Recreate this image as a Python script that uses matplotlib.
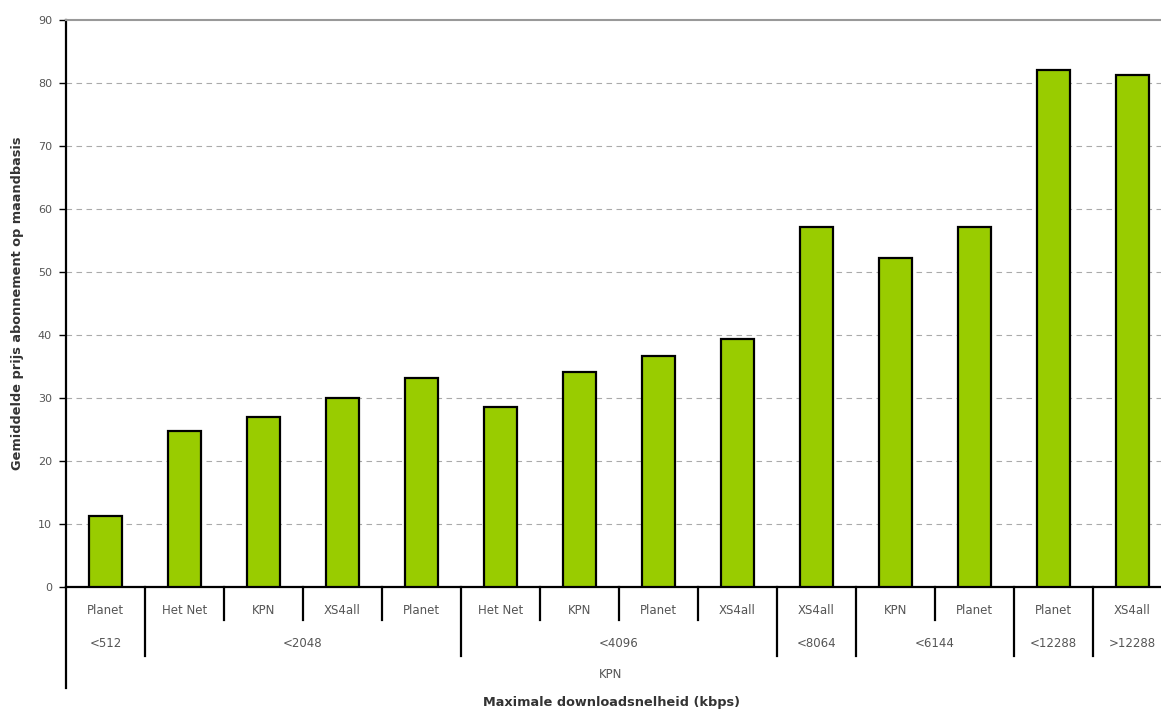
import matplotlib.pyplot as plt

plt.rcParams['font.family'] = ['DejaVu Sans']

# data
providers = ['Planet', 'Het Net', 'KPN', 'XS4all', 'Planet', 'Het Net', 'KPN',
             'Planet', 'XS4all', 'XS4all', 'KPN', 'Planet', 'Planet', 'XS4all']
speed_groups = ['<512', '<2048', '<2048', '<2048', '<2048', '<4096', '<4096',
                '<4096', '<4096', '<8064', '<6144', '<6144', '<12288', '>12288']
prices = [11.3, 24.8, 27.0, 30.0, 33.1, 28.6, 34.2, 36.6, 39.3, 57.1, 52.2,
          57.2, 82.1, 81.3]
y_ticks = [0, 10, 20, 30, 40, 50, 60, 70, 80, 90]

fig = plt.figure(figsize=(11.61, 7.11), dpi=100)
# the plot area runs past the right edge of the picture, as in the original
ax = fig.add_axes([0.0568, 0.1744, 0.9526, 0.7975])

x = list(range(len(prices)))
ax.bar(x, prices, width=0.41, color='#99cc00', edgecolor='black', linewidth=1.6, zorder=3)

ax.set_xlim(-0.5, len(prices) - 0.5)
ax.set_ylim(0, 90)
ax.set_yticks(y_ticks)
ax.tick_params(axis='y', labelsize=8, labelcolor='#555555', color='black',
               length=5, width=1, pad=5)
ax.set_xticks([])

for v in y_ticks[1:-1]:
    ax.axhline(v, color='#aaaaaa', linewidth=0.8, linestyle=(0, (5, 4)), zorder=1)

ax.spines['top'].set_color('#999999')
ax.spines['top'].set_linewidth(1.5)
ax.spines['right'].set_visible(False)
ax.spines['left'].set_linewidth(1.6)
ax.spines['bottom'].set_linewidth(1.6)

ax.set_ylabel('Gemiddelde prijs abonnement op maandbasis', fontsize=9.3,
              fontweight='bold', color='#333333', labelpad=10)

trans = ax.get_xaxis_transform()
row1_y, row2_y = -0.042, -0.099
short_end, long_end = -0.058, -0.121

# provider names
for i, name in enumerate(providers):
    ax.text(i, row1_y, name, transform=trans, ha='center', va='center',
            fontsize=8.5, color='#555555')

# speed groups with divider lines
start = 0
for i in range(1, len(speed_groups) + 1):
    if i == len(speed_groups) or speed_groups[i] != speed_groups[start]:
        ax.text((start + i - 1) / 2, row2_y, speed_groups[start], transform=trans,
                ha='center', va='center', fontsize=8.5, color='#555555')
        if i < len(speed_groups):
            ax.plot([i - 0.5, i - 0.5], [0, long_end], transform=trans,
                    color='black', linewidth=1.6, clip_on=False)
        start = i
    elif i < len(speed_groups):
        ax.plot([i - 0.5, i - 0.5], [0, short_end], transform=trans,
                color='black', linewidth=1.6, clip_on=False)

# left axis line continues below the labels
ax.plot([-0.5, -0.5], [0, -0.178], transform=trans, color='black',
        linewidth=1.6, clip_on=False)

ax.text(6.4, -0.155, 'KPN', transform=trans, ha='center', va='center',
        fontsize=8.5, color='#555555')
ax.text(6.4, -0.203, 'Maximale downloadsnelheid (kbps)', transform=trans,
        ha='center', va='center', fontsize=9.3, fontweight='bold', color='#333333')

fig.savefig('out.png', dpi=100)
